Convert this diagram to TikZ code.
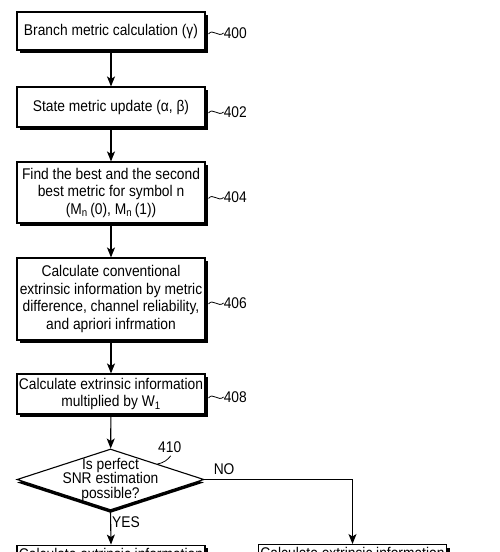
\documentclass[tikz,border=0pt]{standalone}
\usepackage{fontspec}
\setmainfont{Liberation Sans}[FakeStretch=0.89]
\usetikzlibrary{calc}
\usetikzlibrary{arrows.meta,shapes.geometric,shadows}

\begin{document}
\begin{tikzpicture}[x=1pt,y=-1pt,
		procbox/.style={draw, line width=1.1pt, fill=white, align=center,
			minimum width=188pt, inner xsep=1pt, inner ysep=0pt,
			font=\fontsize{15.5}{17.5}\selectfont,
			drop shadow={shadow xshift=3pt, shadow yshift=-3pt, opacity=1, fill=black}},
		decision/.style={diamond, draw, line width=1.1pt, fill=white, align=center,
			aspect=3, inner sep=-14pt, minimum width=187pt, minimum height=61pt,
			font=\fontsize{15.5}{14.5}\selectfont,
			drop shadow={shadow xshift=0pt, shadow yshift=-3pt, opacity=1, fill=black}},
		flow/.style={line width=1.1pt, -{Stealth[length=10pt,width=8pt,inset=2.5pt]}},
		squig/.style={line width=0.8pt},
		refnum/.style={inner sep=0pt, font=\fontsize{15.5}{15.5}\selectfont}]
			\useasboundingbox (0,0) rectangle (500,552);
			\clip (0,0) rectangle (500,552);

			\node[procbox, minimum height=38pt] (s400) at (111,31) {Branch metric calculation (γ)};
			\node[procbox, minimum height=40pt] (s402) at ($(s400)+(0,76)$) {State metric update (α, β)};
			\node[procbox, minimum height=61pt] (s404) at ($(s402)+(0,85.5)$) {Find the best and the second\\best metric for symbol n\\(M\textsubscript{n}\,(0), M\textsubscript{n}\,(1))};
			\node[procbox, minimum height=82pt] (s406) at ($(s404)+(0,106.5)$) {Calculate conventional\\extrinsic information by metric\\difference, channel reliability,\\and apriori infrmation};
			\node[procbox, minimum height=40pt] (s408) at ($(s406)+(0,95)$) {Calculate extrinsic information\\multiplied by W\textsubscript{1}};
			\node[decision] (d410) at ($(s408)+(-0.5,85.5)$) {Is perfect\\SNR estimation\\possible?};

			% branches, cut off at the lower edge
			\node[procbox, anchor=north, inner ysep=3pt] (syes) at ($(d410.south)+(0.5,34)$) {Calculate extrinsic information};
			\node[procbox, anchor=north, inner ysep=3pt] (sno) at (352.5,544) {Calculate extrinsic information};

			% reference numbers
			\node[refnum, anchor=west] (l400) at ($(s400.east)+(18,2)$) {400};
			\node[refnum, anchor=west] (l402) at ($(s402.east)+(18,5)$) {402};
			\node[refnum, anchor=west] (l404) at ($(s404.east)+(18,5)$) {404};
			\node[refnum, anchor=west] (l406) at ($(s406.east)+(18,4)$) {406};
			\node[refnum, anchor=west] (l408) at ($(s408.east)+(18,3)$) {408};
			\node[refnum, anchor=base west] (l410) at ($(d410.north)+(47.5,4)$) {410};

			\node[refnum, anchor=base west] (lno) at ($(d410.east)+(9,-5)$) {NO};
			\node[refnum, anchor=base west] (lyes) at ($(d410.south)+(1.5,17)$) {YES};

			\draw[squig] ($(s400.east)+(3,3)$) .. controls +(4,-6) and +(-5,5) .. (l400.west);
			\draw[squig] ($(s402.east)+(3,6)$) .. controls +(4,-6) and +(-5,5) .. (l402.west);
			\draw[squig] ($(s404.east)+(3,6)$) .. controls +(4,-6) and +(-5,5) .. (l404.west);
			\draw[squig] ($(s406.east)+(3,5)$) .. controls +(4,-6) and +(-5,5) .. (l406.west);
			\draw[squig] ($(s408.east)+(3,4)$) .. controls +(4,-6) and +(-5,5) .. (l408.west);
			\draw[squig] ($(d410.north)!0.5!(d410.east)$) .. controls +(6,-1) and +(-3,4) .. ($(l410.south)+(1,3)$);

			\draw[flow] (s400) -- (s402);
			\draw[flow] (s402) -- (s404);
			\draw[flow] (s404) -- (s406);
			\draw[flow] (s406) -- (s408);
			\draw[flow] (s408) -- (d410);
			\draw[flow] (d410.south) -- (syes.north);
			\draw[flow] (d410.east) -| (sno.north);

		\end{tikzpicture}
\end{document}
